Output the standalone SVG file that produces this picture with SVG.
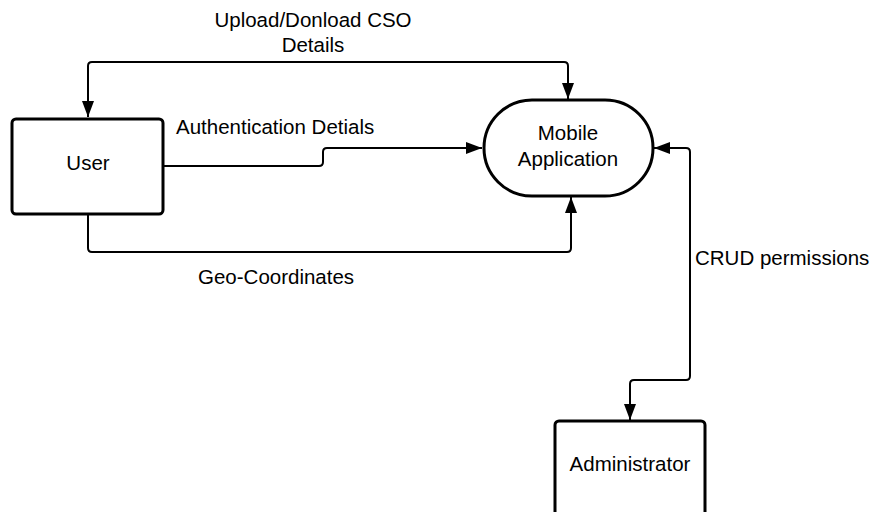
<svg xmlns="http://www.w3.org/2000/svg" width="886" height="512" viewBox="0 0 886 512">
<defs>
<style>
.node{fill:#fff;stroke:#000;stroke-width:3}
.txt{font-family:"Liberation Sans",Arial,sans-serif;font-size:20.5px;fill:#000}
.conn{fill:none;stroke:#000;stroke-width:2}
</style>
<marker id="ah" viewBox="0 0 16 12" refX="16" refY="6" markerWidth="16" markerHeight="12" markerUnits="userSpaceOnUse" orient="auto-start-reverse">
<path d="M0,0 L16,6 L0,12 z" fill="#000"/>
</marker>
</defs>
<rect width="886" height="512" fill="#fff"/>
<g id="connectors">
<path class="conn" d="M568,99 L568,66 Q568,62 564,62 L92,62 Q88,62 88,66 L88,117" marker-end="url(#ah)" marker-start="url(#ah)"/>
<path class="conn" d="M164,166 L319,166 Q323,166 323,162 L323,152 Q323,148 327,148 L482,148" marker-end="url(#ah)"/>
<path class="conn" d="M88,214 L88,248 Q88,252 92,252 L567,252 Q571,252 571,248 L571,197" marker-end="url(#ah)"/>
<path class="conn" d="M630,420 L630,384 Q630,380 634,380 L686,380 Q690,380 690,376 L690,152 Q690,148 686,148 L654,148" marker-end="url(#ah)" marker-start="url(#ah)"/>
<text class="txt" x="313" y="27" text-anchor="middle">Upload/Donload CSO</text>
<text class="txt" x="313" y="52" text-anchor="middle">Details</text>
<text class="txt" x="176" y="134">Authentication Detials</text>
<text class="txt" x="198" y="284">Geo-Coordinates</text>
<text class="txt" x="695" y="265">CRUD permissions</text>
</g>
<g id="user">
<rect class="node" x="12" y="119" width="151" height="95" rx="4"/>
<text class="txt" x="88" y="170" text-anchor="middle">User</text>
</g>
<g id="mobile">
<rect class="node" x="484" y="100" width="169" height="96" rx="48"/>
<text class="txt" x="568" y="140" text-anchor="middle">Mobile</text>
<text class="txt" x="568" y="166" text-anchor="middle">Application</text>
</g>
<g id="admin">
<rect class="node" x="555" y="421" width="150" height="110" rx="4"/>
<text class="txt" x="630" y="471" text-anchor="middle">Administrator</text>
</g>
</svg>
